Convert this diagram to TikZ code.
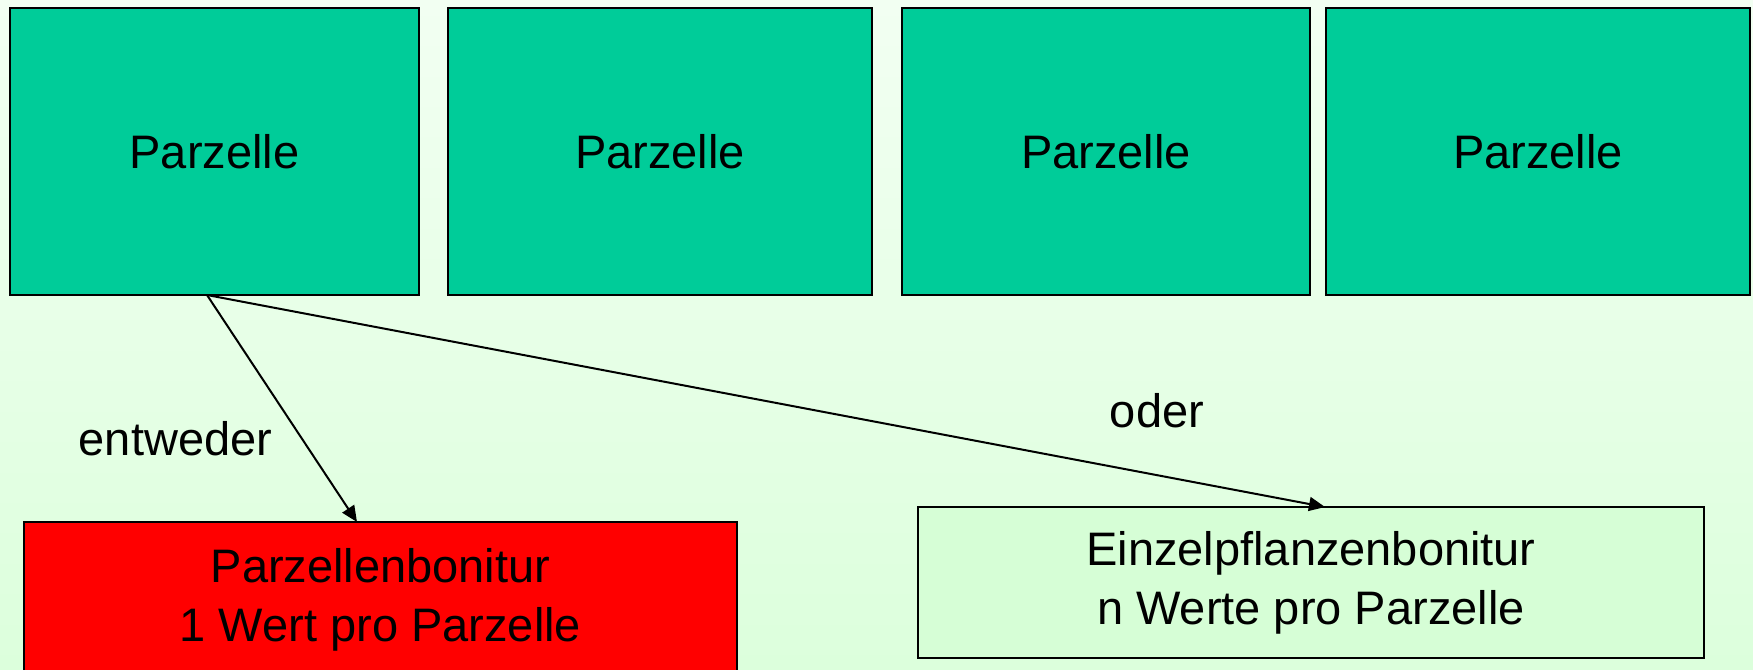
\documentclass[tikz,border=0pt]{standalone}
\usepackage{fontspec}
\setmainfont{Liberation Sans}
\usetikzlibrary{arrows.meta}
\definecolor{bgtop}{RGB}{242,255,242}
\definecolor{bgbot}{RGB}{220,255,220}
\definecolor{teal}{RGB}{0,204,153}
\definecolor{pale}{RGB}{214,254,214}
\definecolor{redbox}{RGB}{255,0,0}
\begin{document}
\begin{tikzpicture}[x=0.5pt,y=-0.5pt,
  txt/.style={font=\fontsize{23.5pt}{29.5pt}\selectfont, text=black},
  parz/.style={txt, draw=black, line width=1pt, fill=teal, inner sep=0pt, outer sep=0pt, anchor=north west},
  bonbox/.style={txt, draw=black, line width=1pt, inner sep=0pt, outer sep=0pt, anchor=north west, align=center},
  arr/.style={line width=1pt, -{Triangle[length=8pt,width=7pt]}}]
\useasboundingbox (0,0) rectangle (1753,670);
\clip (0,0) rectangle (1753,670);
\shade[top color=bgtop, bottom color=bgbot] (0,0) rectangle (1753,670);
\node[parz, minimum width=204.5pt, minimum height=143.5pt] (b1) at (10,8) {Parzelle};
\node[parz, minimum width=212pt, minimum height=143.5pt] (b2) at (448,8) {Parzelle};
\node[parz, minimum width=204pt, minimum height=143.5pt] (b3) at (902,8) {Parzelle};
\node[parz, minimum width=212pt, minimum height=143.5pt] (b4) at (1326,8) {Parzelle};
\node[bonbox, fill=redbox, minimum width=356.5pt, minimum height=78pt] (rb) at (24,522) {Parzellenbonitur\\1 Wert pro Parzelle};
\node[bonbox, fill=pale, minimum width=393pt, minimum height=75.5pt] (gb) at (918,507) {\vspace*{5pt}Einzelpflanzenbonitur\\n Werte pro Parzelle};
\coordinate (s) at ([xshift=-3.75pt]b1.south);
\draw[arr] (s) -- ([xshift=-11.75pt]rb.north);
\draw[arr] (s) -- ([xshift=7pt]gb.north);
\node[txt, anchor=base] (l1) at (175.5,455) {entweder};
\node[txt, anchor=base] (l2) at (1157,427) {oder};
\end{tikzpicture}
\end{document}
